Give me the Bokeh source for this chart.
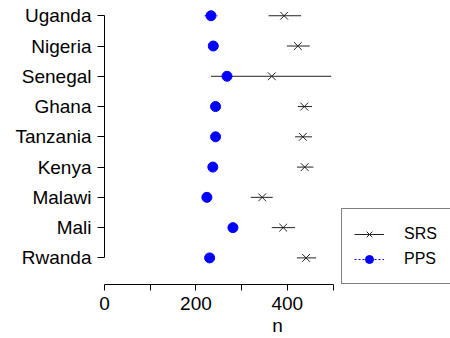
from bokeh.plotting import figure
from bokeh.models import (ColumnDataSource, Range1d, FixedTicker, Legend, LegendItem)
from bokeh.embed import file_html
from bokeh.resources import INLINE

# ---- data ----
countries = ["Uganda", "Nigeria", "Senegal", "Ghana", "Tanzania",
             "Kenya", "Malawi", "Mali", "Rwanda"]
srs_n = [393, 423, 366, 437, 434, 438, 345, 391, 441]
srs_lo = [359, 399, 233, 423, 417, 421, 320, 366, 421]
srs_hi = [430, 449, 496, 454, 454, 457, 368, 417, 463]
pps_n = [233, 238, 268, 243, 243, 237, 224, 281, 230]
pps_lo = [219, 232, 262, 238, 238, 231, 215, 276, 224]
pps_hi = [247, 244, 274, 248, 248, 243, 232, 286, 236]
x_ticks = [0, 100, 200, 300, 400, 500]
x_tick_labels = ["0", "", "200", "", "400", ""]

n_cat = len(countries)
ypos = [n_cat - i for i in range(n_cat)]  # Uganda at top

src = ColumnDataSource(dict(
    y=ypos, srs=srs_n, srs_lo=srs_lo, srs_hi=srs_hi,
    pps=pps_n, pps_lo=pps_lo, pps_hi=pps_hi))

FONT = "Liberation Sans"
px_per_unit = 30.375
frame_h = 285
top_y = n_cat + 15.3 / px_per_unit
bot_y = 1 - (frame_h - 258.3) / px_per_unit

p = figure(width=450, height=338, output_backend="svg", toolbar_location=None,
           x_range=Range1d(0, 757), y_range=Range1d(bot_y, top_y),
           min_border_left=104, min_border_right=0, min_border_top=0,
           min_border_bottom=53)
p.outline_line_color = None
p.grid.visible = False
p.background_fill_color = "white"
p.border_fill_color = "white"

# error bars
r_srs_seg = p.segment(x0="srs_lo", x1="srs_hi", y0="y", y1="y", source=src,
                      line_color="#222222", line_width=1)
r_pps_seg = p.segment(x0="pps_lo", x1="pps_hi", y0="y", y1="y", source=src,
                      line_color="#0000FF", line_width=1, line_dash="2 2")
r_srs_pt = p.scatter(x="srs", y="y", source=src, marker="x", size=11,
                     line_color="#222222", line_width=1)
r_pps_pt = p.scatter(x="pps", y="y", source=src, marker="circle", size=10,
                     fill_color="#0000FF", line_color="#0000FF", line_width=1)

# x axis
xa = p.xaxis[0]
xa.bounds = (x_ticks[0], x_ticks[-1])
xa.ticker = FixedTicker(ticks=x_ticks)
xa.major_label_overrides = {t: l for t, l in zip(x_ticks, x_tick_labels)}
xa.minor_tick_line_color = None
xa.major_tick_out = 6
xa.major_tick_in = 0
xa.major_label_standoff = 6
xa.axis_line_color = "black"
xa.major_tick_line_color = "black"
xa.major_label_text_font = FONT
xa.major_label_text_font_size = "19px"
xa.major_label_text_color = "black"
xa.axis_label = "n"
xa.axis_label_text_font = FONT
xa.axis_label_text_font_size = "19px"
xa.axis_label_text_font_style = "normal"
xa.axis_label_text_color = "black"
xa.axis_label_standoff = 2

# y axis
ya = p.yaxis[0]
ya.bounds = (1, n_cat)
ya.ticker = FixedTicker(ticks=ypos)
ya.major_label_overrides = {y: c for y, c in zip(ypos, countries)}
ya.minor_tick_line_color = None
ya.major_tick_out = 7
ya.major_tick_in = 0
ya.major_label_standoff = 6
ya.axis_line_color = "black"
ya.major_tick_line_color = "black"
ya.major_label_text_font = FONT
ya.major_label_text_font_size = "19px"
ya.major_label_text_color = "black"

legend = Legend(items=[
    LegendItem(label="SRS", renderers=[r_srs_seg, r_srs_pt]),
    LegendItem(label="PPS", renderers=[r_pps_seg, r_pps_pt]),
], location=(237, 0))
legend.padding = 12
legend.spacing = 0
legend.glyph_width = 30
legend.glyph_height = 20
legend.label_height = 25
legend.label_width = 80
legend.label_standoff = 20
legend.label_text_font = FONT
legend.label_text_font_size = "16px"
legend.label_text_color = "black"
legend.border_line_color = "black"
legend.border_line_width = 1
legend.background_fill_color = "white"
legend.background_fill_alpha = 1
p.add_layout(legend, "center")

open("out.html", "w").write(file_html(p, INLINE))
